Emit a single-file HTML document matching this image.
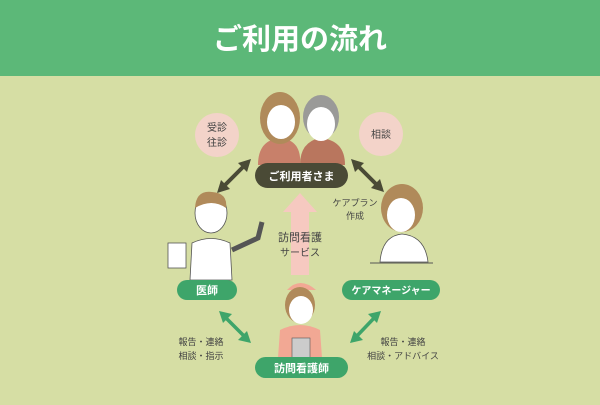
<!DOCTYPE html>
<html><head><meta charset="utf-8"><style>
body{margin:0;width:600px;height:400px;overflow:hidden;background:#d6dea4;font-family:"Liberation Sans","Noto Sans CJK JP",sans-serif}
</style></head><body>
<svg width="600" height="400" viewBox="0 0 600 400" xmlns="http://www.w3.org/2000/svg" font-family="Liberation Sans, Noto Sans CJK JP, sans-serif">
<rect x="0" y="0" width="600" height="400" fill="#d6dea4"/>
<rect x="0" y="0" width="600" height="76" fill="#5cb878"/>
<text x="300" y="49" font-size="29" font-weight="bold" fill="#fff" text-anchor="middle">ご利用の流れ</text>

<!-- pink circles -->
<circle cx="217" cy="135" r="22" fill="#f3d3c9"/>
<text x="217" y="131" font-size="10" fill="#444" text-anchor="middle">受診</text>
<text x="217" y="146" font-size="10" fill="#444" text-anchor="middle">往診</text>
<circle cx="381" cy="134" r="22" fill="#f3d3c9"/>
<text x="381" y="138" font-size="10" fill="#444" text-anchor="middle">相談</text>

<!-- users illustration -->
<path d="M258 165 Q258 140 280 138 Q302 140 300 165 Z" fill="#c8806a"/>
<path d="M300 165 Q300 142 320 138 Q345 140 345 165 Z" fill="#b9765e"/>
<ellipse cx="280" cy="118" rx="20" ry="26" fill="#b08a5a"/>
<ellipse cx="281" cy="122" rx="14" ry="17" fill="#fff"/>
<ellipse cx="321" cy="117" rx="18" ry="22" fill="#9a9a98"/>
<ellipse cx="321" cy="124" rx="14" ry="17" fill="#fff"/>

<!-- pill users -->
<rect x="255" y="163" width="93" height="25" rx="12.5" fill="#4a4a36"/>
<text x="301.5" y="180" font-size="11" font-weight="bold" fill="#fff" text-anchor="middle">ご利用者さま</text>

<!-- dark arrows -->
<g stroke="#4a4a36" stroke-width="4" fill="#4a4a36">
<line x1="245" y1="165" x2="223" y2="187"/>
<line x1="357" y1="165" x2="378" y2="186"/>
</g>
<polygon points="251,159 238,163 247,172" fill="#4a4a36"/>
<polygon points="217,193 221,180 230,189" fill="#4a4a36"/>
<polygon points="351,159 364,163 355,172" fill="#4a4a36"/>
<polygon points="384,192 371,188 380,179" fill="#4a4a36"/>

<!-- pink up arrow -->
<polygon points="300,193 317,212 309,212 309,275 291,275 291,212 283,212" fill="#f6c9c0"/>
<text x="300" y="241" font-size="11" fill="#444" text-anchor="middle">訪問看護</text>
<text x="300" y="256" font-size="10" fill="#444" text-anchor="middle">サービス</text>

<text x="355" y="206" font-size="9" fill="#444" text-anchor="middle">ケアプラン</text>
<text x="355" y="219" font-size="9" fill="#444" text-anchor="middle">作成</text>

<!-- doctor -->
<ellipse cx="211" cy="213" rx="16" ry="20" fill="#fff" stroke="#555" stroke-width="0.8"/>
<path d="M195 208 Q196 190 212 192 Q228 193 226 208 Q212 198 195 208Z" fill="#b08a5a"/>
<path d="M190 280 L192 243 Q211 234 230 243 L232 280Z" fill="#fff" stroke="#555" stroke-width="0.8"/>
<rect x="168" y="243" width="18" height="25" fill="#fff" stroke="#555" stroke-width="0.8"/>
<path d="M232 250 L258 238 L262 222" stroke="#555" stroke-width="5" fill="none"/>

<!-- care manager -->
<ellipse cx="402" cy="208" rx="21" ry="24" fill="#b08a5a"/>
<ellipse cx="401" cy="215" rx="14" ry="17" fill="#fff"/>
<path d="M380 262 Q382 236 402 234 Q425 236 428 262Z" fill="#fff" stroke="#555" stroke-width="0.8"/>
<line x1="370" y1="263" x2="433" y2="263" stroke="#555" stroke-width="1"/>

<!-- pills -->
<rect x="177" y="280" width="60" height="20" rx="10" fill="#3ea56a"/>
<text x="207" y="294" font-size="11" font-weight="bold" fill="#fff" text-anchor="middle">医師</text>
<rect x="342" y="280" width="98" height="20" rx="10" fill="#3ea56a"/>
<text x="391" y="294" font-size="10" font-weight="bold" fill="#fff" text-anchor="middle">ケアマネージャー</text>

<!-- nurse -->
<path d="M287 290 Q300 276 316 290Z" fill="#f2a894"/>
<ellipse cx="300" cy="305" rx="15" ry="18" fill="#b08a5a"/>
<ellipse cx="301" cy="310" rx="12" ry="14" fill="#fff"/>
<path d="M278 358 L280 330 Q300 320 320 330 L322 358Z" fill="#f2a894"/>
<rect x="292" y="338" width="18" height="22" fill="#ccc" stroke="#555" stroke-width="0.6"/>
<rect x="255" y="357" width="93" height="21" rx="10.5" fill="#3ea56a"/>
<text x="301.5" y="372" font-size="11" font-weight="bold" fill="#fff" text-anchor="middle">訪問看護師</text>

<!-- green arrows -->
<g stroke="#3ea56a" stroke-width="3.5">
<line x1="224" y1="316" x2="246" y2="338"/>
<line x1="376" y1="316" x2="355" y2="338"/>
</g>
<polygon points="219,311 232,314 223,323" fill="#3ea56a"/>
<polygon points="251,343 238,340 247,331" fill="#3ea56a"/>
<polygon points="381,311 368,314 377,323" fill="#3ea56a"/>
<polygon points="350,343 363,340 354,331" fill="#3ea56a"/>

<text x="201" y="345" font-size="9" fill="#444" text-anchor="middle">報告・連絡</text>
<text x="201" y="359" font-size="9" fill="#444" text-anchor="middle">相談・指示</text>
<text x="403" y="345" font-size="9" fill="#444" text-anchor="middle">報告・連絡</text>
<text x="403" y="359" font-size="9" fill="#444" text-anchor="middle">相談・アドバイス</text>
</svg>
</body></html>
